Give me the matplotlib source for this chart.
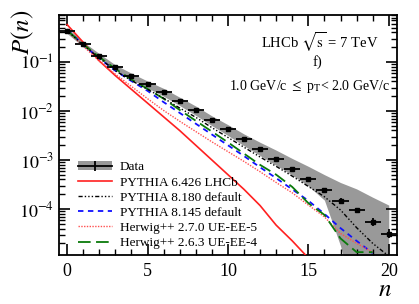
import numpy as np
import matplotlib
matplotlib.use('Agg')
import matplotlib.pyplot as plt
from matplotlib.patches import Patch
from matplotlib.lines import Line2D

plt.rcParams['font.family'] = ['Liberation Serif', 'DejaVu Serif']
plt.rcParams['mathtext.fontset'] = 'stix'

# multiplicity n
n = np.arange(0, 21)

# data, log10 P(n)
data_log = np.array([-0.361, -0.639, -0.878, -1.108, -1.292, -1.449, -1.612, -1.796, -1.98, -2.18,
                     -2.37, -2.57, -2.77, -2.97, -3.18, -3.39, -3.61, -3.83, -4.03, -4.27, -4.50])
# systematic band edges (log10)
band_hi_log = np.array([-0.30, -0.59, -0.83, -1.06, -1.23, -1.39, -1.54, -1.72, -1.90, -2.10,
                        -2.28, -2.47, -2.64, -2.80, -2.97, -3.13, -3.30, -3.46, -3.59, -3.76, -3.92])
band_lo_log = np.array([-0.42, -0.69, -0.93, -1.17, -1.36, -1.53, -1.70, -1.89, -2.09, -2.30,
                        -2.50, -2.71, -2.91, -3.11, -3.31, -3.53, -3.82, -4.75, -6.0, -6.0, -6.0])
stat_err = np.array([0.01, 0.01, 0.01, 0.01, 0.01, 0.01, 0.01, 0.01, 0.01, 0.01,
                     0.015, 0.015, 0.02, 0.02, 0.03, 0.03, 0.04, 0.05, 0.06, 0.08, 0.10])

# models, log10 P(n)
py6_log = np.array([-0.24, -0.60, -0.98, -1.28, -1.56, -1.84, -2.12, -2.40, -2.70, -3.00,
                    -3.30, -3.60, -3.93, -4.33, -4.65, -5.0])
py8180_log = np.array([-0.36, -0.66, -0.92, -1.18, -1.38, -1.56, -1.74, -1.94, -2.13, -2.34,
                       -2.54, -2.74, -2.94, -3.13, -3.33, -3.54, -3.75, -4.02, -4.38, -4.70, -4.96])
py8145_log = np.array([-0.34, -0.65, -0.93, -1.18, -1.39, -1.59, -1.82, -2.04, -2.26, -2.48,
                       -2.70, -2.92, -3.15, -3.37, -3.60, -3.83, -4.10, -4.39, -4.65, -4.90])
hw270_log = np.array([-0.36, -0.68, -0.98, -1.25, -1.50, -1.75, -1.99, -2.21, -2.42, -2.63,
                      -2.83, -3.03, -3.24, -3.46, -3.67, -3.92, -4.16, -4.50, -4.70, -4.88])
hw263_log = np.array([-0.36, -0.64, -0.90, -1.14, -1.36, -1.55, -1.75, -1.98, -2.20, -2.42,
                      -2.64, -2.87, -3.10, -3.30, -3.55, -3.88, -4.12, -4.60, -4.88, -4.88])

P = 10**data_log
fig = plt.figure(figsize=(4.19, 3.04), dpi=100)
ax = fig.add_axes([0.141, 0.161, 0.806, 0.790])

ax.fill_between(n, 10**band_lo_log, 10**band_hi_log, color='#999999', lw=0, zorder=1)
yl = P - 10**(data_log - stat_err)
yu = 10**(data_log + stat_err) - P
ax.errorbar(n, P, xerr=0.5, yerr=[yl, yu], fmt='s', color='black', ms=2.5,
            elinewidth=1.3, capsize=0, zorder=5)

ax.plot(n[:len(py6_log)], 10**py6_log, color='#ff2020', lw=1.2, zorder=3)
ax.plot(n[:len(py8180_log)], 10**py8180_log, color='black', lw=1.0,
        dashes=(3, 1.5, 1, 1.5, 1, 1.5, 1, 1.5), zorder=4)
ax.plot(n[:len(py8145_log)], 10**py8145_log, color='#1010ff', lw=1.3, dashes=(3, 2.5), zorder=3)
ax.plot(n[:len(hw270_log)], 10**hw270_log, color='#ff5050', lw=1.0, dashes=(1, 1), zorder=3)
ax.plot(n[:len(hw263_log)], 10**hw263_log, color='#0a7a0a', lw=1.3, dashes=(7, 3), zorder=3)

ax.set_yscale('log')
ax.set_xlim(-0.5, 20.5)
ax.set_ylim(1.15e-5, 0.91)
ax.set_xticks([0, 5, 10, 15, 20])
ax.set_xticks(np.arange(0, 21), minor=True)
ax.set_yticks([1e-4, 1e-3, 1e-2, 1e-1])
ax.set_yticklabels([r'$10^{-4}$', r'$10^{-3}$', r'$10^{-2}$', r'$10^{-1}$'])
ax.tick_params(which='both', direction='in', top=True, right=True, labelsize=13)
ax.tick_params(which='major', length=8, width=1.2)
ax.tick_params(which='minor', length=4, width=1.0)
ax.tick_params(axis='x', pad=6)
for s in ax.spines.values():
    s.set_linewidth(1.3)

fig.text(23 / 419, 1 - 32 / 304, r'$P(n)$', rotation=90, ha='center', va='center', fontsize=18)
fig.text(385 / 419, 1 - 290 / 304, r'$n$', ha='center', va='center', fontsize=18)

ax.text(0.772, 0.8875, r'LHCb $\sqrt{\mathrm{s}}$ = 7 TeV', transform=ax.transAxes,
        ha='center', va='center', fontsize=10.5)
ax.text(0.765, 0.804, 'f)', transform=ax.transAxes, ha='center', va='center', fontsize=10.5)
ax.text(0.742, 0.70, r'1.0 GeV/c $\leq$ p$_\mathrm{T}$< 2.0 GeV/c', transform=ax.transAxes,
        ha='center', va='center', fontsize=10)

h_data = (Patch(facecolor='#999999', edgecolor='none'),
          Line2D([], [], color='black', lw=1.3, marker='|', ms=7, mew=1.3))
handles = [h_data,
           Line2D([], [], color='#ff2020', lw=1.2),
           Line2D([], [], color='black', lw=1.0, dashes=(3, 1.5, 1, 1.5, 1, 1.5, 1, 1.5)),
           Line2D([], [], color='#1010ff', lw=1.3, dashes=(3, 2.5)),
           Line2D([], [], color='#ff5050', lw=1.0, dashes=(1, 1)),
           Line2D([], [], color='#0a7a0a', lw=1.3, dashes=(7, 3))]
labels = ['Data', 'PYTHIA 6.426 LHCb', 'PYTHIA 8.180 default', 'PYTHIA 8.145 default',
          'Herwig++ 2.7.0 UE-EE-5', 'Herwig++ 2.6.3 UE-EE-4']
ax.legend(handles, labels, loc='lower left', bbox_to_anchor=(0.02, -0.025), frameon=False,
          fontsize=9.5, handlelength=2.6, labelspacing=0.22, handletextpad=0.6)

fig.savefig('out.png', dpi=100)
